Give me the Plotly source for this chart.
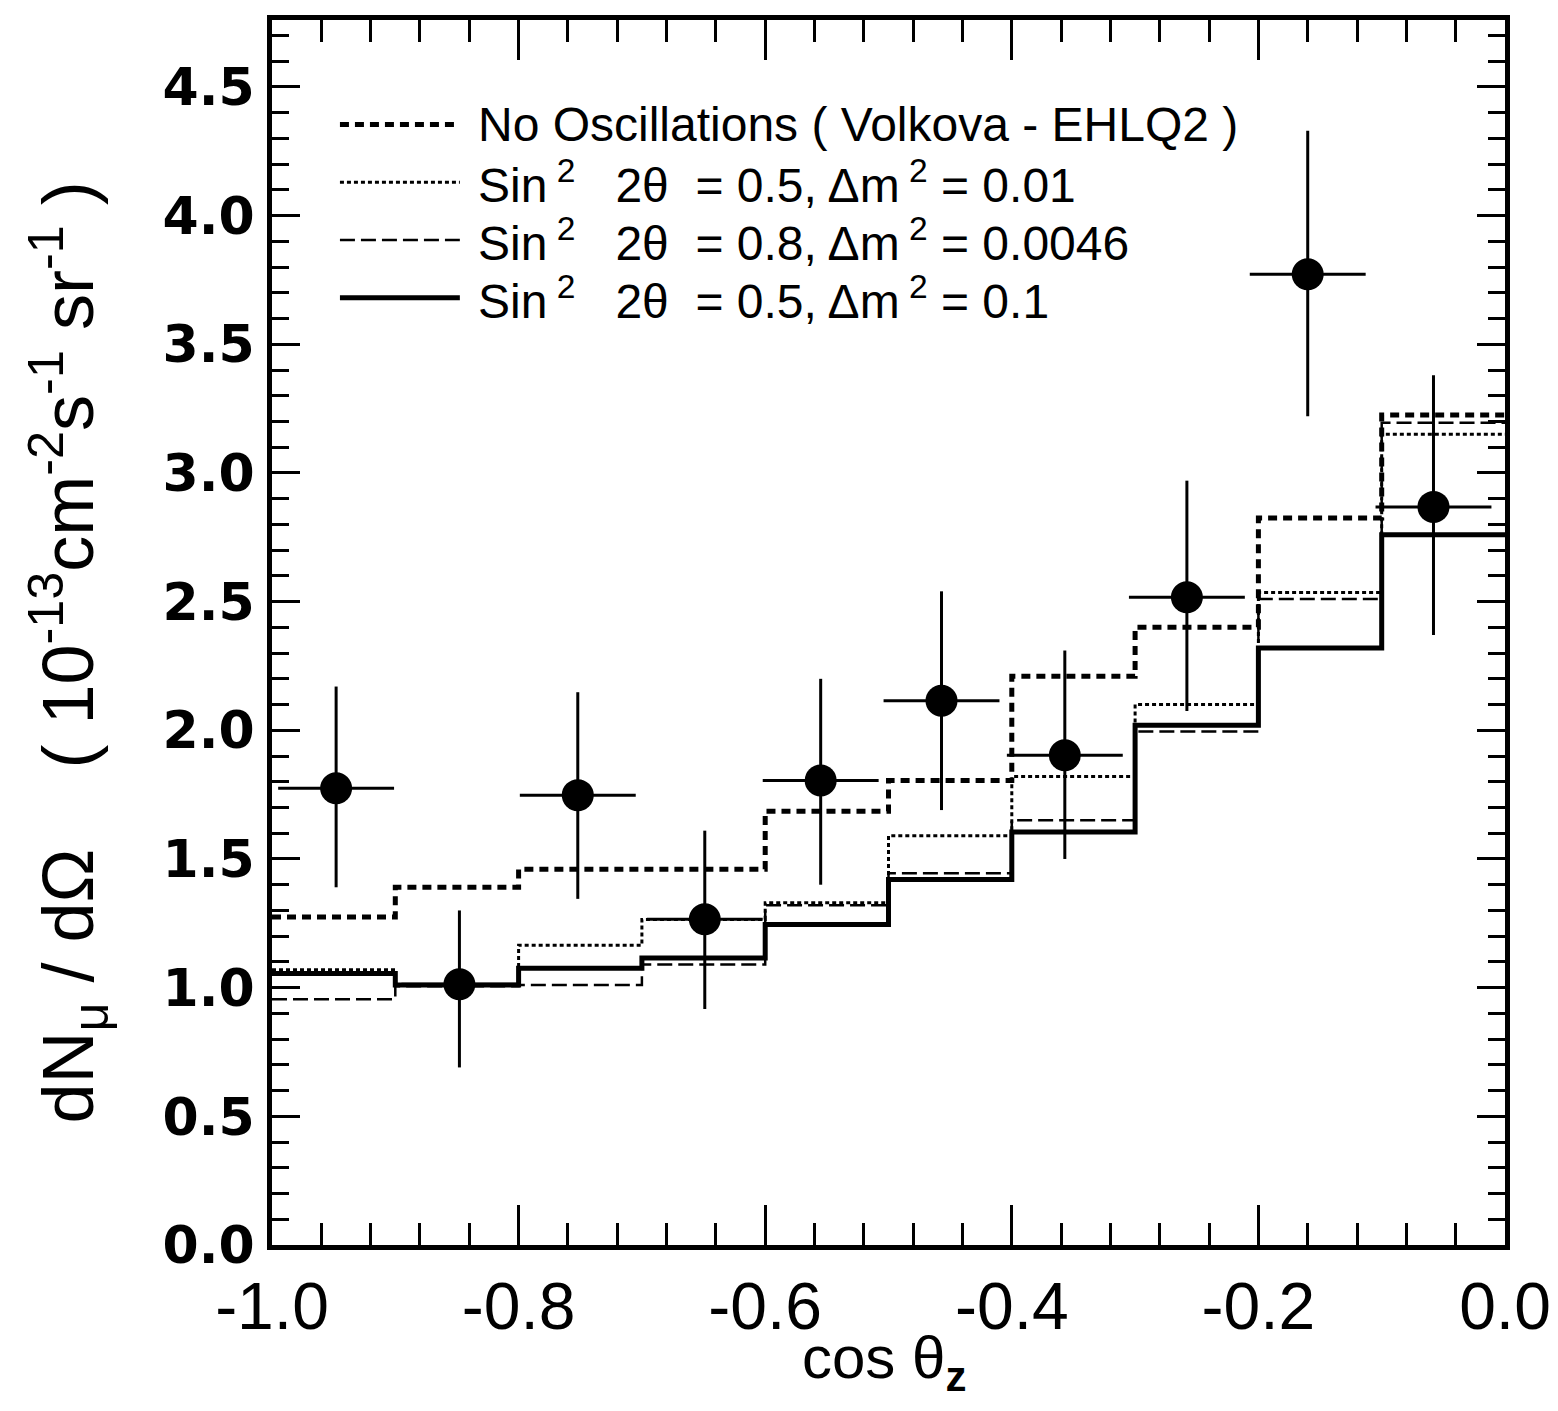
import plotly.graph_objects as go

# ---------------- data ----------------
bin_edges = [-1.0, -0.9, -0.8, -0.7, -0.6, -0.5, -0.4, -0.3, -0.2, -0.1, 0.0]

no_osc = [1.275, 1.39, 1.46, 1.46, 1.685, 1.805, 2.21, 2.40, 2.825, 3.225]
osc_05_001 = [1.07, 1.01, 1.165, 1.265, 1.33, 1.59, 1.82, 2.10, 2.535, 3.15]
osc_08_00046 = [0.955, 1.005, 1.01, 1.09, 1.32, 1.445, 1.65, 1.995, 2.51, 3.195]
osc_05_01 = [1.055, 1.01, 1.075, 1.115, 1.245, 1.42, 1.605, 2.02, 2.32, 2.76]

data_x = [-0.948, -0.848, -0.752, -0.649, -0.555, -0.457, -0.357, -0.258, -0.16, -0.058]
data_y = [1.775, 1.013, 1.748, 1.266, 1.805, 2.115, 1.903, 2.517, 3.772, 2.868]
err_up = [0.395, 0.287, 0.40, 0.344, 0.395, 0.425, 0.407, 0.453, 0.558, 0.512]
err_dn = [0.385, 0.323, 0.403, 0.349, 0.405, 0.425, 0.403, 0.442, 0.552, 0.498]
err_x = [0.047] * 10

legend_labels = [
    "No Oscillations ( Volkova - EHLQ2 )",
    "Sin<sup>\u00a02</sup>\u00a0\u00a0 2θ\u00a0 = 0.5, Δm<sup>\u00a02</sup> = 0.01",
    "Sin<sup>\u00a02</sup>\u00a0\u00a0 2θ\u00a0 = 0.8, Δm<sup>\u00a02</sup> = 0.0046",
    "Sin<sup>\u00a02</sup>\u00a0\u00a0 2θ\u00a0 = 0.5, Δm<sup>\u00a02</sup> = 0.1",
]

x_tickvals = [-1.0, -0.8, -0.6, -0.4, -0.2, 0.0]
x_ticktext = ["-1.0", "-0.8", "-0.6", "-0.4", "-0.2", "0.0"]
y_tickvals = [0.0, 0.5, 1.0, 1.5, 2.0, 2.5, 3.0, 3.5, 4.0, 4.5]
y_ticktext = ["0.0", "0.5", "1.0", "1.5", "2.0", "2.5", "3.0", "3.5", "4.0", "4.5"]

# ---------------- styles ----------------
styles = [
    dict(width=5, dash="9px,6px"),     # thick dotted
    dict(width=3, dash="4px,3px"),     # thin dotted
    dict(width=2.5, dash="15px,6px"),  # dashed
    dict(width=5, dash="solid"),       # solid
]
series = [no_osc, osc_05_001, osc_08_00046, osc_05_01]

fig = go.Figure()
for vals, st in zip(series, styles):
    fig.add_trace(go.Scatter(
        x=bin_edges, y=vals + [vals[-1]], mode="lines", line_shape="hv",
        line=dict(color="black", width=st["width"], dash=st["dash"]),
        showlegend=False, hoverinfo="skip"))

fig.add_trace(go.Scatter(
    x=data_x, y=data_y, mode="markers",
    marker=dict(color="black", size=32, symbol="circle"),
    error_y=dict(type="data", array=err_up, arrayminus=err_dn, symmetric=False,
                 color="black", thickness=3, width=0),
    error_x=dict(type="data", array=err_x, color="black", thickness=3, width=0),
    showlegend=False))

# ---------------- plot geometry (pixels, page coords of the reference) ----------------
OFF = 8  # default page body margin
W, H = 1558 - OFF, 1411 - OFF
X0, X1, Y0, Y1 = 272, 1506, 15, 1245   # plot frame in page pixels
L, R, T, B = X0 - OFF, W - (X1 - OFF), Y0 - OFF, H - (Y1 - OFF)
pw, ph = X1 - X0, Y1 - Y0

def px(xp):
    return (xp - X0) / pw

def py(yp):
    return (Y1 - yp) / ph

SANS = "Liberation Sans Narrow, Liberation Sans, Arial"

# manual legend
row_y = [120, 178, 236, 294]
for lab, st, yy in zip(legend_labels, styles, row_y):
    fig.add_shape(type="line", xref="paper", yref="paper",
                  x0=px(340), x1=px(460), y0=py(yy), y1=py(yy),
                  line=dict(color="black", width=st["width"], dash=st["dash"]))
    fig.add_annotation(xref="paper", yref="paper", x=px(476), y=py(yy),
                       text=lab, showarrow=False, xanchor="left", yanchor="middle",
                       font=dict(family=SANS, size=48, color="black"))

# axis titles
fig.add_annotation(xref="paper", yref="paper", x=px(68), y=py(650),
                   text="dN<sub>μ</sub> / dΩ\u00a0\u00a0\u00a0 ( 10<sup>-13</sup>cm<sup>-2</sup>s<sup>-1</sup> sr<sup>-1</sup> )",
                   textangle=-90, showarrow=False, xanchor="center", yanchor="middle",
                   font=dict(family=SANS, size=72, color="black"))
fig.add_annotation(xref="paper", yref="paper", x=px(884), y=py(1362),
                   text="cos\u00a0θ<sub><b>z</b></sub>",
                   showarrow=False, xanchor="center", yanchor="middle",
                   font=dict(family=SANS, size=60, color="black"))

fig.update_layout(
    width=W, height=H,
    margin=dict(l=L, r=R, t=T, b=B, pad=0),
    paper_bgcolor="white", plot_bgcolor="white",
    showlegend=False,
)
fig.update_xaxes(
    range=[-1.0, 0.0], tickvals=x_tickvals, ticktext=x_ticktext,
    ticks="inside", ticklen=40, tickwidth=3, tickcolor="black",
    minor=dict(dtick=0.04, tick0=-1.0, ticks="inside", ticklen=22, tickwidth=3, tickcolor="black", showgrid=False),
    showline=True, linewidth=5, linecolor="black", mirror="allticks",
    showgrid=False, zeroline=False, ticklabelstandoff=0,
    tickfont=dict(family=SANS, size=66, color="black"),
)
fig.update_yaxes(
    range=[0.0, 4.76], tickvals=y_tickvals, ticktext=y_ticktext,
    ticks="inside", ticklen=28, tickwidth=3, tickcolor="black",
    minor=dict(dtick=0.1, tick0=0.0, ticks="inside", ticklen=17, tickwidth=3, tickcolor="black", showgrid=False),
    showline=True, linewidth=5, linecolor="black", mirror="allticks",
    showgrid=False, zeroline=False, ticklabelstandoff=2,
    tickfont=dict(family="DejaVu Sans", size=52, color="black", weight="bold"),
)

fig.write_html("out.html")
